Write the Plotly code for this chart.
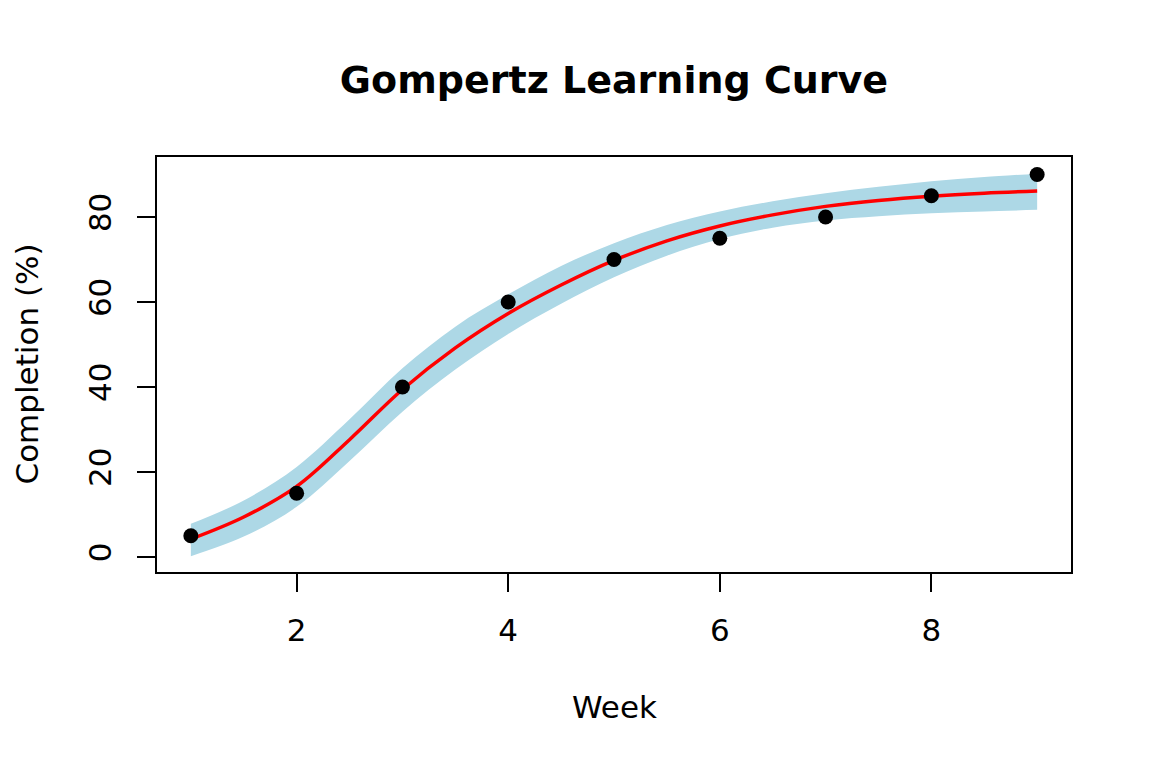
import plotly.graph_objects as go

# observed completion per week
weeks = [1, 2, 3, 4, 5, 6, 7, 8, 9]
completion = [5, 15, 40, 60, 70, 75, 80, 85, 90]

# fitted Gompertz curve and band at half-week steps
fit_weeks = [1, 1.5, 2, 2.5, 3, 3.5, 4, 4.5, 5, 5.5, 6, 6.5, 7, 7.5, 8, 8.5, 9]
fit = [4.2, 9.4, 16.6, 27.6, 39.4, 49.2, 57.3, 64.0, 69.8, 74.4, 77.9, 80.5, 82.5, 83.9, 84.9, 85.6, 86.1]
upper = [7.8, 13.3, 21.2, 32.4, 44.4, 54.2, 61.8, 68.5, 73.8, 78.1, 81.3, 83.7, 85.6, 87.1, 88.4, 89.4, 90.2]
lower = [0.2, 4.8, 11.8, 22.6, 34.2, 44.1, 52.5, 59.6, 65.8, 70.9, 74.8, 77.5, 79.2, 80.2, 80.9, 81.3, 81.7]

x_ticks = [2, 4, 6, 8]
y_ticks = [0, 20, 40, 60, 80]

FONT = "DejaVu Sans"

fig = go.Figure()

# band: lower edge, then upper edge filled down to it
fig.add_trace(go.Scatter(
    x=fit_weeks, y=lower, mode="lines",
    line=dict(width=0, shape="spline"),
    hoverinfo="skip", showlegend=False
))
fig.add_trace(go.Scatter(
    x=fit_weeks, y=upper, mode="lines",
    line=dict(width=0, shape="spline"),
    fill="tonexty", fillcolor="#ADD8E6",
    hoverinfo="skip", showlegend=False
))

# fitted curve
fig.add_trace(go.Scatter(
    x=fit_weeks, y=fit, mode="lines",
    line=dict(color="red", width=3.5, shape="spline"),
    showlegend=False
))

# observed points
fig.add_trace(go.Scatter(
    x=weeks, y=completion, mode="markers",
    marker=dict(color="black", size=15),
    showlegend=False
))

# page body has an 8px margin, so the figure is a bit smaller than the window
fig.update_layout(
    width=1144, height=760,
    paper_bgcolor="white", plot_bgcolor="white",
    margin=dict(l=149, r=81, t=149, b=196),
    font=dict(family=FONT, size=31, color="black"),
    title=dict(
        text="<b>Gompertz Learning Curve</b>",
        x=0.5, xref="paper", xanchor="center",
        y=1 - 72 / 760, yref="container", yanchor="middle",
        font=dict(family=FONT, size=38, color="black")
    ),
    annotations=[
        dict(text="Week", x=0.5, xref="paper", y=-(707 - 572) / 415, yref="paper",
             xanchor="center", yanchor="middle", showarrow=False,
             font=dict(family=FONT, size=31)),
        dict(text="Completion (%)", x=-(157 - 26) / 914, xref="paper", y=0.5, yref="paper",
             xanchor="center", yanchor="middle", textangle=-90, showarrow=False,
             font=dict(family=FONT, size=31)),
    ],
)

fig.update_xaxes(
    range=[0.68, 9.32], tickvals=x_ticks,
    showgrid=False, zeroline=False,
    showline=True, mirror=True, linecolor="black", linewidth=1.5,
    ticks="outside", ticklen=18, tickwidth=1.5, tickcolor="black",
    ticklabelstandoff=12
)
fig.update_yaxes(
    range=[-3.53, 94.12], tickvals=y_ticks,
    showgrid=False, zeroline=False,
    showline=True, mirror=True, linecolor="black", linewidth=1.5,
    ticks="outside", ticklen=18, tickwidth=1.5, tickcolor="black",
    tickangle=-90, ticklabelstandoff=14
)

fig.write_html("out.html")
